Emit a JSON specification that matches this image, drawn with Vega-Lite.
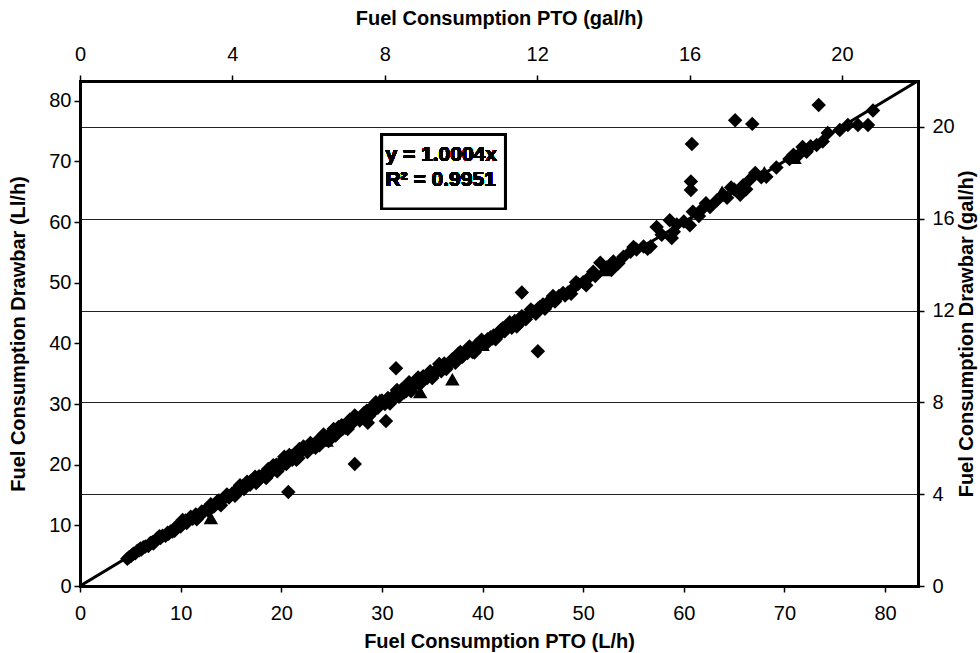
{
  "$schema": "https://vega.github.io/schema/vega-lite/v6.json",
  "width": 838,
  "height": 505,
  "autosize": "none",
  "padding": {"left": 80, "top": 81, "right": 62, "bottom": 67},
  "background": "white",
  "config": {
    "view": {"stroke": null},
    "font": "Liberation Sans",
    "axis": {
      "domainColor": "black",
      "domainWidth": 3,
      "domainCap": "square",
      "tickColor": "black",
      "tickWidth": 1.5,
      "tickSize": 6,
      "labelFont": "Liberation Sans",
      "labelFontSize": 20,
      "labelColor": "black",
      "labelFlush": false,
      "labelOverlap": false,
      "titleFont": "Liberation Sans",
      "titleFontSize": 20,
      "titleFontWeight": "bold",
      "titleColor": "black",
      "grid": false
    }
  },
  "data": {
    "values": [
      {"x":4.7,"y":4.5,"s":"d"},{"x":4.9,"y":4.8,"s":"d"},{"x":5.1,"y":5.0,"s":"d"},{"x":5.3,"y":5.3,"s":"d"},{"x":5.5,"y":5.4,"s":"d"},{"x":5.7,"y":5.8,"s":"d"},{"x":5.9,"y":5.9,"s":"d"},{"x":6.1,"y":6.0,"s":"d"},{"x":6.3,"y":6.4,"s":"d"},{"x":6.5,"y":6.5,"s":"d"},
      {"x":6.8,"y":6.6,"s":"d"},{"x":7.0,"y":7.1,"s":"d"},{"x":7.2,"y":7.2,"s":"d"},{"x":7.5,"y":7.4,"s":"d"},{"x":7.7,"y":7.9,"s":"d"},{"x":8.0,"y":7.9,"s":"d"},{"x":8.2,"y":8.3,"s":"d"},{"x":8.5,"y":8.3,"s":"d"},{"x":8.7,"y":8.8,"s":"d"},{"x":9.0,"y":9.0,"s":"d"},
      {"x":9.2,"y":9.0,"s":"d"},{"x":9.5,"y":9.7,"s":"d"},{"x":9.8,"y":9.8,"s":"d"},{"x":10.0,"y":9.8,"s":"d"},{"x":10.3,"y":10.6,"s":"d"},{"x":10.6,"y":10.4,"s":"d"},{"x":10.9,"y":11.0,"s":"d"},{"x":11.2,"y":11.1,"s":"d"},{"x":11.5,"y":11.8,"s":"d"},{"x":11.8,"y":11.4,"s":"d"},
      {"x":12.1,"y":12.3,"s":"d"},{"x":12.4,"y":12.4,"s":"d"},{"x":12.7,"y":12.5,"s":"d"},{"x":13.0,"y":13.5,"s":"d"},{"x":13.3,"y":13.1,"s":"d"},{"x":13.6,"y":13.9,"s":"d"},{"x":13.9,"y":13.5,"s":"d"},{"x":14.2,"y":14.3,"s":"d"},{"x":14.5,"y":14.9,"s":"d"},{"x":14.8,"y":14.6,"s":"d"},
      {"x":15.1,"y":15.2,"s":"d"},{"x":15.4,"y":14.9,"s":"d"},{"x":15.7,"y":16.1,"s":"d"},{"x":16.0,"y":16.0,"s":"d"},{"x":16.3,"y":16.0,"s":"d"},{"x":16.6,"y":17.2,"s":"d"},{"x":16.9,"y":16.7,"s":"d"},{"x":17.2,"y":17.4,"s":"d"},{"x":17.5,"y":17.0,"s":"d"},{"x":17.8,"y":18.1,"s":"d"},
      {"x":18.1,"y":18.2,"s":"d"},{"x":18.4,"y":18.0,"s":"d"},{"x":18.7,"y":19.3,"s":"d"},{"x":19.0,"y":18.9,"s":"d"},{"x":19.3,"y":19.5,"s":"d"},{"x":19.6,"y":18.9,"s":"d"},{"x":19.9,"y":20.3,"s":"d"},{"x":20.2,"y":20.4,"s":"d"},{"x":20.5,"y":20.1,"s":"d"},{"x":20.8,"y":21.6,"s":"d"},
      {"x":21.1,"y":20.8,"s":"d"},{"x":21.4,"y":21.9,"s":"d"},{"x":21.7,"y":21.1,"s":"d"},{"x":22.0,"y":22.2,"s":"d"},{"x":22.3,"y":22.7,"s":"d"},{"x":22.6,"y":22.1,"s":"d"},{"x":22.9,"y":23.6,"s":"d"},{"x":23.2,"y":23.0,"s":"d"},{"x":23.5,"y":23.8,"s":"d"},{"x":23.8,"y":23.2,"s":"d"},
      {"x":24.1,"y":24.6,"s":"d"},{"x":24.4,"y":24.5,"s":"d"},{"x":24.7,"y":23.9,"s":"d"},
      {"x":6.0,"y":6.2,"s":"d"},{"x":7.3,"y":7.0,"s":"d"},{"x":8.8,"y":8.6,"s":"d"},{"x":10.5,"y":10.8,"s":"d"},{"x":12.0,"y":11.8,"s":"d"},{"x":13.8,"y":14.1,"s":"d"},{"x":15.5,"y":15.7,"s":"d"},{"x":17.0,"y":17.3,"s":"d"},{"x":18.9,"y":18.6,"s":"d"},{"x":20.0,"y":19.7,"s":"d"},
      {"x":21.0,"y":21.4,"s":"d"},{"x":22.5,"y":22.9,"s":"d"},{"x":24.0,"y":23.7,"s":"d"},{"x":20.3,"y":21.3,"s":"d"},{"x":21.8,"y":22.6,"s":"d"},{"x":19.2,"y":19.9,"s":"d"},
      {"x":7.9,"y":8.2,"s":"d"},{"x":9.4,"y":9.1,"s":"d"},{"x":11.0,"y":11.4,"s":"d"},{"x":12.9,"y":12.6,"s":"d"},{"x":14.6,"y":15.1,"s":"d"},{"x":16.2,"y":16.5,"s":"d"},{"x":17.7,"y":17.4,"s":"d"},{"x":19.5,"y":20.0,"s":"d"},{"x":21.2,"y":21.1,"s":"d"},{"x":23.0,"y":23.3,"s":"d"},
      {"x":10.2,"y":10.9,"s":"d"},{"x":11.6,"y":11.0,"s":"d"},{"x":14.0,"y":13.3,"s":"d"},{"x":15.9,"y":16.6,"s":"d"},{"x":17.4,"y":18.0,"s":"d"},{"x":18.5,"y":17.8,"s":"d"},{"x":20.6,"y":21.2,"s":"d"},{"x":21.5,"y":20.8,"s":"d"},{"x":22.2,"y":23.0,"s":"d"},{"x":23.4,"y":22.8,"s":"d"},
      {"x":24.2,"y":25.0,"s":"d"},{"x":25.2,"y":25.9,"s":"d"},{"x":26.6,"y":25.9,"s":"d"},{"x":27.3,"y":28.1,"s":"d"},{"x":28.7,"y":28.0,"s":"d"},{"x":29.4,"y":30.3,"s":"d"},{"x":30.8,"y":30.1,"s":"d"},{"x":31.5,"y":32.3,"s":"d"},{"x":32.9,"y":32.1,"s":"d"},{"x":33.6,"y":34.4,"s":"d"},
      {"x":35.0,"y":34.3,"s":"d"},{"x":35.7,"y":36.6,"s":"d"},{"x":36.4,"y":35.8,"s":"d"},{"x":37.8,"y":38.6,"s":"d"},{"x":39.2,"y":38.5,"s":"d"},{"x":39.9,"y":40.6,"s":"d"},{"x":41.3,"y":40.7,"s":"d"},{"x":42.7,"y":43.5,"s":"d"},{"x":43.4,"y":42.8,"s":"d"},{"x":44.8,"y":45.6,"s":"d"},
      {"x":46.2,"y":45.7,"s":"d"},{"x":47.0,"y":47.8,"s":"d"},{"x":48.8,"y":48.2,"s":"d"},{"x":49.3,"y":50.1,"s":"d"},{"x":50.3,"y":49.6,"s":"d"},{"x":51.0,"y":51.8,"s":"d"},{"x":52.8,"y":52.1,"s":"d"},{"x":55.0,"y":55.9,"s":"d"},{"x":56.4,"y":55.6,"s":"d"},{"x":59.0,"y":58.4,"s":"d"},
      {"x":61.5,"y":61.0,"s":"d"},{"x":62.2,"y":63.1,"s":"d"},{"x":64.7,"y":65.7,"s":"d"},{"x":66.2,"y":65.4,"s":"d"},{"x":69.2,"y":69.0,"s":"d"},{"x":72.2,"y":71.6,"s":"d"},
      {"x":25.0,"y":25.3,"s":"d"},{"x":25.4,"y":24.8,"s":"d"},{"x":25.7,"y":26.2,"s":"d"},{"x":26.1,"y":25.9,"s":"d"},{"x":26.4,"y":26.1,"s":"d"},{"x":26.8,"y":27.4,"s":"d"},{"x":27.1,"y":26.9,"s":"d"},{"x":27.5,"y":27.8,"s":"d"},{"x":27.8,"y":27.3,"s":"d"},{"x":28.2,"y":28.5,"s":"d"},
      {"x":28.5,"y":28.9,"s":"d"},{"x":28.9,"y":28.4,"s":"d"},{"x":29.2,"y":29.8,"s":"d"},{"x":29.6,"y":29.4,"s":"d"},{"x":29.9,"y":30.2,"s":"d"},{"x":30.3,"y":30.0,"s":"d"},{"x":30.6,"y":31.0,"s":"d"},{"x":31.0,"y":30.7,"s":"d"},{"x":31.3,"y":31.6,"s":"d"},{"x":31.7,"y":31.2,"s":"d"},
      {"x":32.0,"y":32.5,"s":"d"},{"x":32.4,"y":32.1,"s":"d"},{"x":32.7,"y":33.6,"s":"d"},{"x":33.1,"y":32.8,"s":"d"},{"x":33.4,"y":33.7,"s":"d"},{"x":33.8,"y":33.3,"s":"d"},{"x":34.1,"y":34.6,"s":"d"},{"x":34.5,"y":34.3,"s":"d"},{"x":34.8,"y":35.4,"s":"d"},{"x":35.2,"y":34.9,"s":"d"},
      {"x":35.5,"y":35.8,"s":"d"},{"x":35.9,"y":35.4,"s":"d"},{"x":36.2,"y":36.7,"s":"d"},{"x":36.6,"y":36.5,"s":"d"},{"x":36.9,"y":37.2,"s":"d"},{"x":37.3,"y":36.8,"s":"d"},{"x":37.6,"y":38.3,"s":"d"},{"x":38.0,"y":37.8,"s":"d"},{"x":38.3,"y":38.7,"s":"d"},{"x":38.7,"y":39.5,"s":"d"},
      {"x":39.0,"y":38.6,"s":"d"},{"x":39.4,"y":39.8,"s":"d"},{"x":39.7,"y":39.5,"s":"d"},{"x":40.1,"y":40.2,"s":"d"},{"x":40.4,"y":40.0,"s":"d"},{"x":40.8,"y":41.0,"s":"d"},{"x":41.1,"y":41.3,"s":"d"},{"x":41.5,"y":41.2,"s":"d"},{"x":41.8,"y":42.2,"s":"d"},{"x":42.2,"y":42.0,"s":"d"},
      {"x":42.5,"y":42.9,"s":"d"},{"x":42.9,"y":42.6,"s":"d"},{"x":43.2,"y":43.7,"s":"d"},{"x":43.6,"y":43.2,"s":"d"},{"x":43.9,"y":44.5,"s":"d"},{"x":44.3,"y":44.0,"s":"d"},{"x":44.6,"y":44.9,"s":"d"},{"x":45.0,"y":45.3,"s":"d"},{"x":45.3,"y":44.9,"s":"d"},{"x":45.7,"y":46.0,"s":"d"},
      {"x":46.0,"y":46.4,"s":"d"},{"x":46.4,"y":46.2,"s":"d"},{"x":46.8,"y":47.3,"s":"d"},{"x":47.2,"y":46.9,"s":"d"},{"x":47.6,"y":47.8,"s":"d"},{"x":48.0,"y":48.3,"s":"d"},{"x":48.5,"y":48.4,"s":"d"},{"x":49.0,"y":49.1,"s":"d"},{"x":49.5,"y":49.8,"s":"d"},{"x":50.0,"y":50.1,"s":"d"},
      {"x":26.0,"y":26.5,"s":"d"},{"x":28.0,"y":27.7,"s":"d"},{"x":30.0,"y":30.6,"s":"d"},{"x":32.2,"y":31.9,"s":"d"},{"x":34.0,"y":34.2,"s":"d"},{"x":36.0,"y":36.3,"s":"d"},{"x":38.5,"y":38.4,"s":"d"},{"x":40.5,"y":40.7,"s":"d"},{"x":42.0,"y":42.5,"s":"d"},{"x":44.0,"y":44.3,"s":"d"},
      {"x":46.5,"y":46.6,"s":"d"},{"x":48.2,"y":47.9,"s":"d"},{"x":29.0,"y":29.1,"s":"d"},{"x":33.0,"y":33.2,"s":"d"},{"x":37.0,"y":37.4,"s":"d"},{"x":41.0,"y":40.8,"s":"d"},{"x":45.5,"y":45.7,"s":"d"},
      {"x":50.6,"y":50.9,"s":"d"},{"x":51.2,"y":51.1,"s":"d"},{"x":51.7,"y":53.3,"s":"d"},{"x":52.3,"y":52.5,"s":"d"},{"x":53.0,"y":53.5,"s":"d"},{"x":53.5,"y":53.2,"s":"d"},{"x":54.0,"y":54.3,"s":"d"},{"x":54.7,"y":55.1,"s":"d"},{"x":55.3,"y":55.5,"s":"d"},{"x":56.0,"y":56.0,"s":"d"},
      {"x":56.7,"y":56.0,"s":"d"},{"x":57.3,"y":59.2,"s":"d"},{"x":57.8,"y":57.9,"s":"d"},{"x":58.6,"y":60.3,"s":"d"},{"x":58.8,"y":57.4,"s":"d"},{"x":59.3,"y":59.6,"s":"d"},{"x":60.0,"y":60.1,"s":"d"},{"x":60.6,"y":59.5,"s":"d"},{"x":60.9,"y":61.7,"s":"d"},{"x":61.9,"y":62.3,"s":"d"},
      {"x":62.6,"y":62.5,"s":"d"},{"x":63.3,"y":63.6,"s":"d"},{"x":63.9,"y":64.5,"s":"d"},{"x":64.3,"y":64.0,"s":"d"},{"x":65.0,"y":65.4,"s":"d"},{"x":65.6,"y":64.5,"s":"d"},{"x":65.9,"y":66.1,"s":"d"},{"x":66.5,"y":66.9,"s":"d"},{"x":67.1,"y":68.1,"s":"d"},{"x":67.7,"y":67.4,"s":"d"},
      {"x":68.2,"y":67.5,"s":"d"},{"x":70.5,"y":70.4,"s":"d"},{"x":70.9,"y":71.1,"s":"d"},{"x":71.3,"y":70.9,"s":"d"},{"x":71.8,"y":72.4,"s":"d"},{"x":72.6,"y":72.5,"s":"d"},{"x":73.2,"y":72.7,"s":"d"},{"x":73.8,"y":73.3,"s":"d"},{"x":74.3,"y":74.7,"s":"d"},{"x":75.5,"y":75.2,"s":"d"},
      {"x":76.3,"y":76.0,"s":"d"},{"x":77.3,"y":76.0,"s":"d"},{"x":78.3,"y":76.0,"s":"d"},{"x":78.8,"y":78.4,"s":"d"},
      {"x":20.7,"y":15.5,"s":"d"},{"x":27.3,"y":20.1,"s":"d"},{"x":31.4,"y":35.9,"s":"d"},{"x":30.4,"y":27.2,"s":"d"},{"x":28.6,"y":26.9,"s":"d"},{"x":43.9,"y":48.4,"s":"d"},{"x":45.5,"y":38.7,"s":"d"},{"x":60.8,"y":72.9,"s":"d"},{"x":60.7,"y":66.7,"s":"d"},{"x":60.7,"y":65.3,"s":"d"},
      {"x":65.1,"y":76.8,"s":"d"},{"x":66.8,"y":76.2,"s":"d"},{"x":73.4,"y":79.3,"s":"d"},
      {"x":13.0,"y":11.2,"s":"t"},{"x":33.8,"y":32.0,"s":"t"},{"x":37.0,"y":34.1,"s":"t"},{"x":29.8,"y":30.7,"s":"t"},{"x":63.8,"y":65.0,"s":"t"},{"x":18.0,"y":18.1,"s":"t"},{"x":24.5,"y":24.0,"s":"t"},{"x":40.0,"y":39.8,"s":"t"},{"x":52.0,"y":52.1,"s":"t"},{"x":68.0,"y":68.2,"s":"t"},
      {"x":71.0,"y":70.6,"s":"t"}
    ]
  },
  "layer": [
    {
      "mark": {"type": "point", "filled": true, "opacity": 1, "color": "black", "size": 210},
      "encoding": {
        "x": {"field": "x", "type": "quantitative",
          "scale": {"domain": [0, 83.27], "nice": false, "zero": true},
          "axis": {"orient": "bottom", "values": [0,10,20,30,40,50,60,70,80], "title": "Fuel Consumption PTO (L/h)", "labelPadding": 11, "titlePadding": 8}},
        "y": {"field": "y", "type": "quantitative",
          "scale": {"domain": [0, 83.27], "nice": false, "zero": true},
          "axis": {"orient": "left", "values": [0,10,20,30,40,50,60,70,80], "title": "Fuel Consumption Drawbar (Ll/h)", "labelPadding": 3, "titlePadding": 20}},
        "shape": {"field": "s", "type": "nominal",
          "scale": {"domain": ["d", "t"], "range": ["diamond", "triangle-up"]},
          "legend": null}
      }
    },
    {
      "data": {"values": [{"x": 0, "y": 0}, {"x": 83.27, "y": 83.30}]},
      "mark": {"type": "line", "color": "black", "strokeWidth": 3, "clip": true},
      "encoding": {
        "x": {"field": "x", "type": "quantitative",
          "axis": {"orient": "top", "values": [0, 15.1416, 30.2833, 45.4249, 60.5665, 75.7082],
            "labelExpr": "format(datum.value / 3.785411784, '.0f')",
            "title": "Fuel Consumption PTO (gal/h)", "labelPadding": 11, "titlePadding": 16}},
        "y": {"field": "y", "type": "quantitative",
          "axis": {"orient": "right", "values": [0, 15.1416, 30.2833, 45.4249, 60.5665, 75.7082],
            "labelExpr": "format(datum.value / 3.785411784, '.0f')",
            "title": "Fuel Consumption Drawbar (gal/h)", "titleAngle": 270, "titleBaseline": "top",
            "labelPadding": 8, "titlePadding": 2,
            "grid": true, "gridColor": "#222", "gridWidth": 1}}
      }
    },
    {
      "mark": {"type": "rect", "fill": "white", "stroke": "black", "strokeWidth": 2.5},
      "encoding": {
        "x": {"datum": 30.0, "type": "quantitative", "axis": null},
        "x2": {"datum": 42.25},
        "y": {"datum": 62.2, "type": "quantitative", "axis": null},
        "y2": {"datum": 74.4}
      }
    },
    {
      "mark": {"type": "text", "align": "left", "baseline": "middle", "font": "Liberation Sans", "fontSize": 21, "fontWeight": "bold", "fill": "black", "text": "y = 1.0004x"},
      "encoding": {
        "x": {"datum": 30.35, "type": "quantitative", "axis": null},
        "y": {"datum": 71.1, "type": "quantitative", "axis": null}
      }
    },
    {
      "mark": {"type": "text", "align": "left", "baseline": "middle", "font": "Liberation Sans", "fontSize": 21, "fontWeight": "bold", "fill": "black", "text": "R² = 0.9951"},
      "encoding": {
        "x": {"datum": 30.35, "type": "quantitative", "axis": null},
        "y": {"datum": 66.9, "type": "quantitative", "axis": null}
      }
    }
  ]
}
